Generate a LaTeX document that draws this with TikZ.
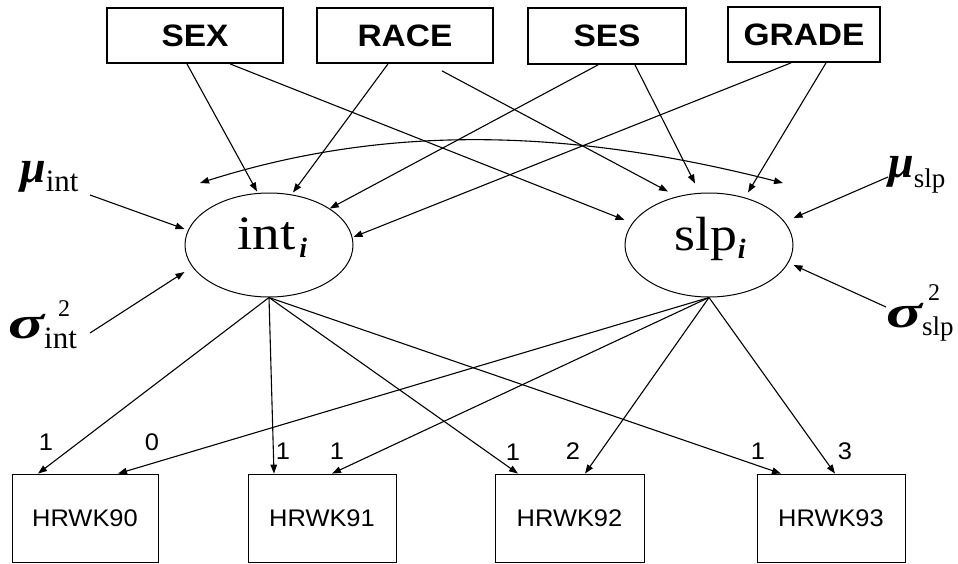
\documentclass[tikz,border=0pt]{standalone}
\usepackage{fontspec}
\usepackage{graphicx}
\setmainfont{Liberation Serif}
\newfontfamily\arialb[FakeStretch=1.08]{Liberation Sans}
\newfontfamily\arialn[FakeStretch=1.06]{Liberation Sans}
\usetikzlibrary{arrows.meta,shapes.geometric}
\tikzset{
  topbox/.style={draw, line width=1.8pt, inner sep=0pt, font=\arialb\bfseries\fontsize{31}{31}\selectfont},
  obsbox/.style={draw, line width=0.8pt, inner sep=0pt, minimum height=88pt, font=\arialn\fontsize{24}{24}\selectfont},
  latent/.style={draw, ellipse, line width=1pt, minimum width=168pt, minimum height=104pt, inner sep=0pt},
  arr/.style={line width=1.1pt, -{Triangle[length=9pt,width=6.5pt]}},
  darr/.style={line width=1.1pt, {Triangle[length=9pt,width=6.5pt]}-{Triangle[length=9pt,width=6.5pt]}},
  wt/.style={inner sep=0pt, font=\arialn\fontsize{24}{24}\selectfont},
  lbl/.style={inner sep=0pt, anchor=base west}
}
\newcommand\gbig{\fontsize{46}{46}\selectfont\bfseries\itshape}
\newcommand\gsub{\fontsize{31}{31}\selectfont}
\newcommand\gsubs{\fontsize{27}{27}\selectfont}
\newcommand\gsup{\fontsize{24}{24}\selectfont}
\newcommand\sigm{\scalebox{1.45}[1]{\gbig σ}}
\newcommand\subi{\raisebox{-8pt}{\fontsize{28}{28}\selectfont\bfseries\itshape i}}
\begin{document}
\begin{tikzpicture}[x=1pt,y=-1pt]
\useasboundingbox (0,0) rectangle (958,563);
% top boxes
\node[topbox, minimum width=176pt, minimum height=55pt] (SEX) at (195,35.5) {SEX};
\node[topbox, minimum width=176pt, minimum height=55pt] (RACE) at (405,35.5) {RACE};
\node[topbox, minimum width=158pt, minimum height=56pt] (SES) at (607,36) {SES};
\node[topbox, minimum width=152pt, minimum height=55pt] (GRADE) at (804,34.5) {GRADE};
% latent
\node[latent] (int) at (269,245) {};
\node[latent] (slp) at (709,245) {};
\node[lbl] (intl) at (237,249) {\scalebox{1.15}[1]{\fontsize{48}{48}\selectfont int}\hspace{4pt}\subi};
\node[lbl] (slpl) at (674,250) {\scalebox{1.12}[1]{\fontsize{48}{48}\selectfont slp}\hspace{1pt}\subi};
% parameter labels
\node[lbl] (muint) at (20,182) {{\gbig μ}\raisebox{-9pt}{\gsub int}};
\node[lbl] (sigint) at (8,338) {\sigm\rlap{\hspace{14pt}\raisebox{22pt}{\gsup 2}}\raisebox{-10pt}{\gsub int}};
\node[lbl] (muslp) at (888,177) {{\gbig μ}\raisebox{-10pt}{\gsubs slp}};
\node[lbl] (sigslp) at (886,327) {\sigm\rlap{\hspace{6pt}\raisebox{27pt}{\gsup 2}}\raisebox{-8pt}{\gsubs slp}};
\coordinate (muintO) at (90,195);
\coordinate (sigintO) at (90,333);
\coordinate (muslpO) at (888,177);
\coordinate (sigslpO) at (886,307);
\coordinate (covL) at (200,183);
\coordinate (covR) at (783,183);
% bottom boxes
\node[obsbox, minimum width=146pt] (H90) at (85,518) {HRWK90};
\node[obsbox, minimum width=148pt] (H91) at (322,518) {HRWK91};
\node[obsbox, minimum width=149pt] (H92) at (569.5,518) {HRWK92};
\node[obsbox, minimum width=148pt] (H93) at (831,518) {HRWK93};
% covariates to latent
\draw[arr] ([xshift=-8pt]SEX.south) -- ([xshift=-12pt,yshift=1pt]int.north);
\draw[arr] ([xshift=35pt]SEX.south) -- ([yshift=25pt]slp.west);
\draw[arr] ([xshift=-17pt]RACE.south) -- ([xshift=24pt]int.north);
\draw[arr] ([xshift=37pt,yshift=-7pt]RACE.south) -- ([xshift=-41pt,yshift=1pt]slp.north);
\draw[arr] ([xshift=-9pt]SES.south) -- (int.31);
\draw[arr] ([xshift=28pt]SES.south) -- ([xshift=-14pt,yshift=9pt]slp.north);
\draw[arr] ([xshift=-13pt]GRADE.south) -- ([yshift=8pt]int.east);
\draw[arr] ([xshift=22pt]GRADE.south) -- ([xshift=39pt]slp.north);
% means and variances
\draw[arr] (muintO) -- ([yshift=16pt]int.west);
\draw[arr] (sigintO) -- ([yshift=-27pt]int.west);
\draw[arr] (muslpO) -- ([yshift=27pt]slp.east);
\draw[arr] (sigslpO) -- ([yshift=-20pt]slp.east);
% covariance
\draw[darr] (covL) .. controls (380,126) and (560,126) .. (covR);
% loadings
\draw[arr] (int.south) -- ([xshift=-47pt]H90.north) node[wt, at end, xshift=8pt, yshift=31pt] {1};
\draw[arr] (slp.south) -- ([xshift=33pt]H90.north) node[wt, at end, xshift=34pt, yshift=31pt] {0};
\draw[arr] (int.south) -- ([xshift=-48pt]H91.north) node[wt, at end, xshift=9pt, yshift=22pt] {1};
\draw[arr] (slp.south) -- ([xshift=10pt]H91.north) node[wt, at end, xshift=5pt, yshift=22pt] {1};
\draw[arr] (int.south) -- ([xshift=-51.5pt]H92.north) node[wt, at end, xshift=-5pt, yshift=21pt] {1};
\draw[arr] (slp.south) -- ([xshift=15.5pt]H92.north) node[wt, at end, xshift=-12pt, yshift=22pt] {2};
\draw[arr] (int.south) -- ([xshift=-50pt]H93.north) node[wt, at end, xshift=-23pt, yshift=22pt] {1};
\draw[arr] (slp.south) -- ([xshift=4pt]H93.north) node[wt, at end, xshift=10pt, yshift=22pt] {3};
\end{tikzpicture}
\end{document}
